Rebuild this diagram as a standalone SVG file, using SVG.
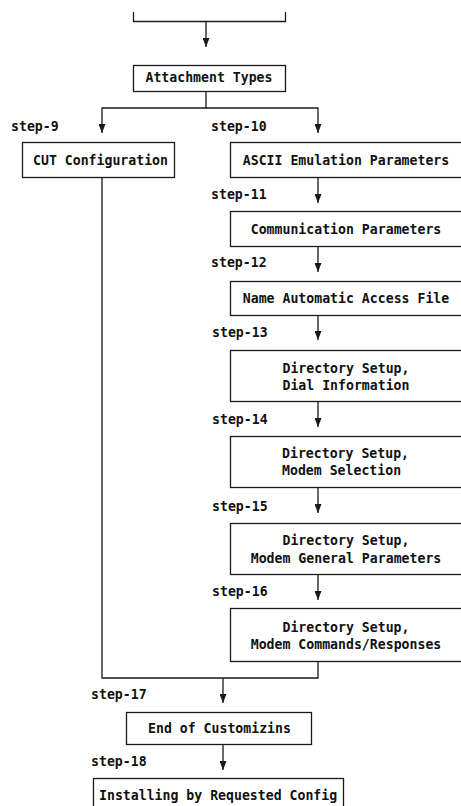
<svg xmlns="http://www.w3.org/2000/svg" width="461" height="806" viewBox="0 0 461 806">
  <style>
    .box { fill: #fff; stroke: #1a1a1a; stroke-width: 1.3; }
    .wire { fill: none; stroke: #1a1a1a; stroke-width: 1.3; }
    text { font-family: "DejaVu Sans Mono", "Liberation Mono", monospace; font-size: 13.2px; fill: #111; font-weight: bold; }
    .mid { text-anchor: middle; }
  </style>
  <defs>
    <!-- filled arrowhead, drawn along +x so orient="auto" points it down the wire -->
    <marker id="arrow" markerUnits="userSpaceOnUse" markerWidth="9" markerHeight="7" refX="9" refY="3.5" orient="auto" viewBox="0 0 9 7">
      <path d="M0,0 L9,3.5 L0,7 Z" fill="#1a1a1a"/>
    </marker>
  </defs>
  <rect width="461" height="806" fill="#fff"/>

  <g id="connectors">
    <path class="wire" d="M133.5,12 V21.5 H285.5 V12"/>
    <path class="wire" d="M206,21.5 V47" marker-end="url(#arrow)"/>
    <path class="wire" d="M206,91 V108 H102 V133" marker-end="url(#arrow)"/>
    <path class="wire" d="M206,108 H318 V133" marker-end="url(#arrow)"/>
    <path class="wire" d="M318,177 V203" marker-end="url(#arrow)"/>
    <path class="wire" d="M318,246 V272" marker-end="url(#arrow)"/>
    <path class="wire" d="M318,315 V340" marker-end="url(#arrow)"/>
    <path class="wire" d="M318,401 V427" marker-end="url(#arrow)"/>
    <path class="wire" d="M318,487 V513" marker-end="url(#arrow)"/>
    <path class="wire" d="M318,574 V600" marker-end="url(#arrow)"/>
    <path class="wire" d="M102,177 V678 H318 V661"/>
    <path class="wire" d="M223,678 V703" marker-end="url(#arrow)"/>
    <path class="wire" d="M223,744 V770" marker-end="url(#arrow)"/>
  </g>

  <g id="labels">
    <text x="11" y="131">step-9</text>
    <text x="211" y="131">step-10</text>
    <text x="211" y="199">step-11</text>
    <text x="211" y="267">step-12</text>
    <text x="212" y="337">step-13</text>
    <text x="212" y="424">step-14</text>
    <text x="212" y="511">step-15</text>
    <text x="212" y="596">step-16</text>
    <text x="91" y="699">step-17</text>
    <text x="91" y="766">step-18</text>
  </g>

  <g id="attachment-types">
    <rect class="box" x="133.5" y="65.5" width="152" height="26"/>
    <text class="mid" x="209" y="82">Attachment Types</text>
  </g>
  <g id="cut-configuration">
    <rect class="box" x="22.5" y="142.5" width="152" height="35"/>
    <text x="33" y="164.5">CUT Configuration</text>
  </g>
  <g id="ascii-emulation">
    <rect class="box" x="230.5" y="142.5" width="232" height="35"/>
    <text class="mid" x="346" y="164.5">ASCII Emulation Parameters</text>
  </g>
  <g id="communication">
    <rect class="box" x="230.5" y="211.5" width="232" height="35"/>
    <text class="mid" x="346" y="233.5">Communication Parameters</text>
  </g>
  <g id="access-file">
    <rect class="box" x="230.5" y="281.5" width="232" height="34"/>
    <text class="mid" x="346" y="303">Name Automatic Access File</text>
  </g>
  <g id="dial-information">
    <rect class="box" x="230.5" y="350.5" width="232" height="51"/>
    <text class="mid" x="346" y="373">Directory Setup,</text>
    <text class="mid" x="346" y="390">Dial Information</text>
  </g>
  <g id="modem-selection">
    <rect class="box" x="230.5" y="436.5" width="232" height="51"/>
    <text x="282" y="458">Directory Setup,</text>
    <text x="282" y="475">Modem Selection</text>
  </g>
  <g id="modem-general">
    <rect class="box" x="230.5" y="523.5" width="232" height="51"/>
    <text class="mid" x="346" y="545">Directory Setup,</text>
    <text class="mid" x="346" y="563">Modem General Parameters</text>
  </g>
  <g id="modem-commands">
    <rect class="box" x="230.5" y="608.5" width="232" height="53"/>
    <text class="mid" x="346" y="632">Directory Setup,</text>
    <text class="mid" x="346" y="649">Modem Commands/Responses</text>
  </g>
  <g id="end-of-customizing">
    <rect class="box" x="126.5" y="712.5" width="185" height="32"/>
    <text x="148" y="733">End of Customizins</text>
  </g>
  <g id="installing">
    <rect class="box" x="93.5" y="778.5" width="250" height="40"/>
    <text x="99" y="800">Installing by Requested Config</text>
  </g>
</svg>
